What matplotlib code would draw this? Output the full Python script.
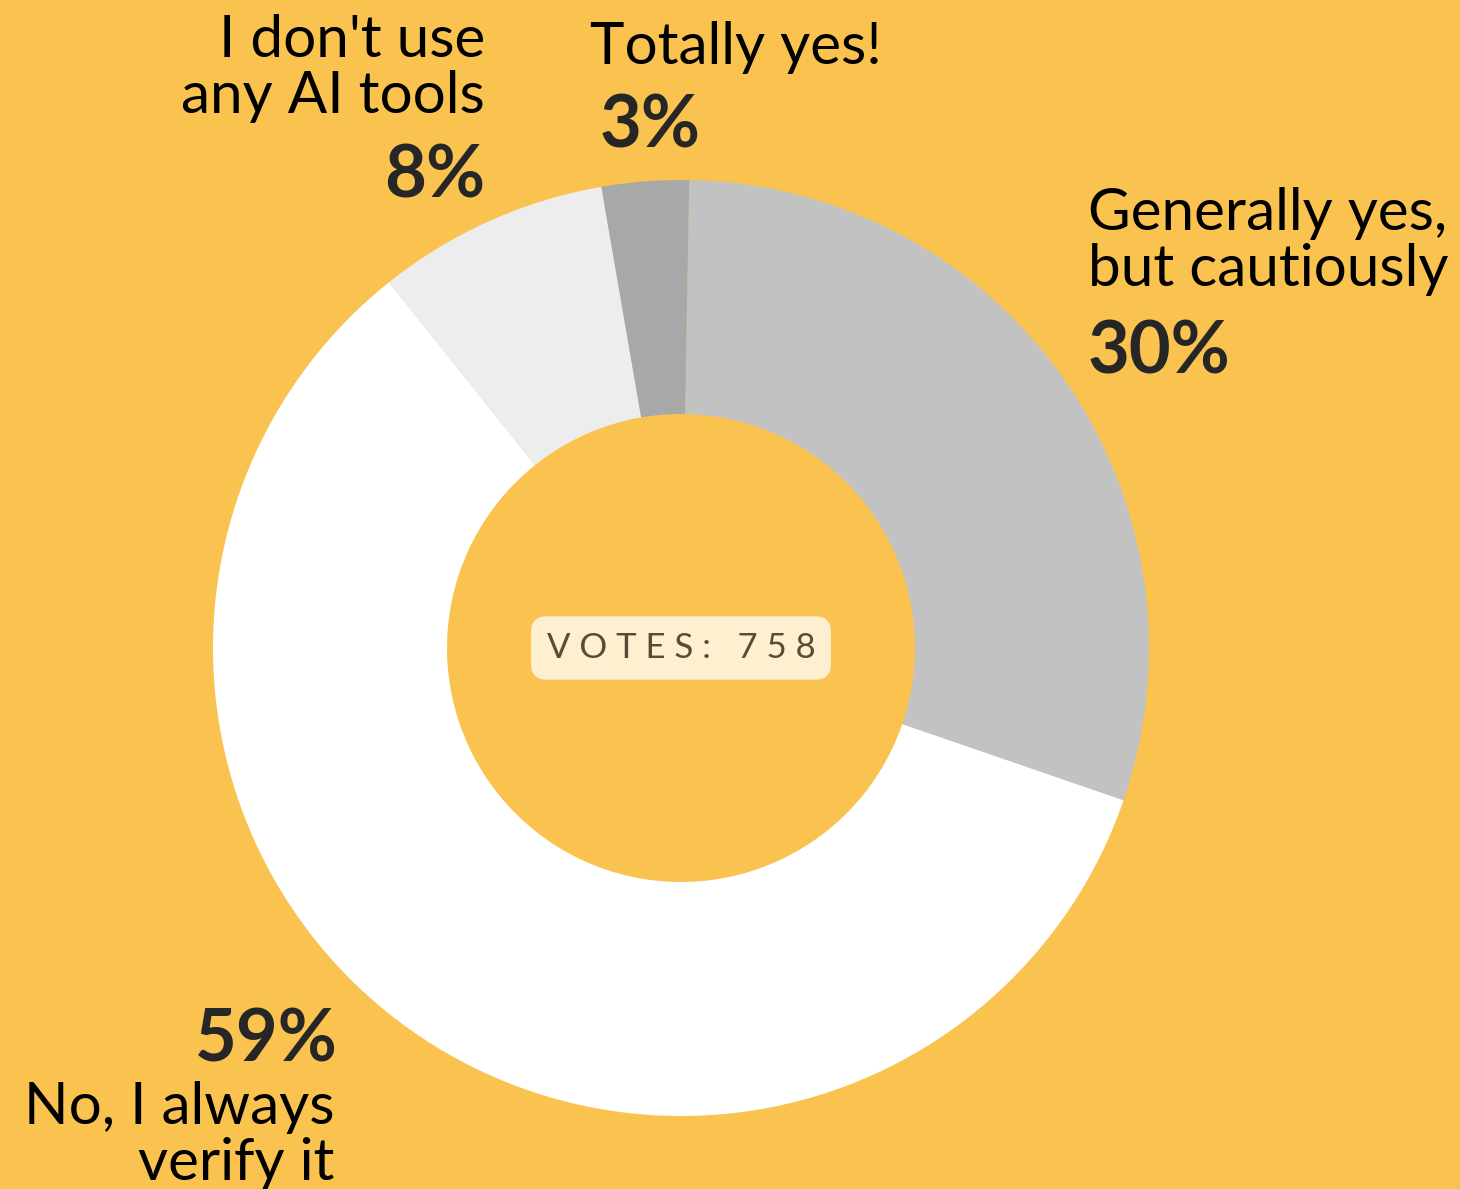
import matplotlib.pyplot as plt

labels = ["Generally yes,\nbut cautiously", "No, I always\nverify it", "I don't use\nany AI tools", "Totally yes!"]
shares = [30, 59, 8, 3]
pct_text = ["30%", "59%", "8%", "3%"]
votes = 758

bg = "#FAC34F"
slice_colors = ["#C2C2C2", "#FFFFFF", "#EDEDED", "#A8A8A8"]

W, H = 1460, 1189
fig = plt.figure(figsize=(W / 100, H / 100), dpi=100, facecolor=bg)

# donut: centre (681, 648) px, radius 468 px
cx, cy, r = 681, 648, 468
ax = fig.add_axes([(cx - r) / W, (H - cy - r) / H, 2 * r / W, 2 * r / H])
ax.set_facecolor(bg)
ax.pie(shares, colors=slice_colors, startangle=89, counterclock=False,
       radius=1, wedgeprops=dict(width=0.5, edgecolor="none"))
ax.set_xlim(-1, 1)
ax.set_ylim(-1, 1)
ax.set_aspect("equal")
ax.axis("off")

vote_label = " ".join("VOTES:") + "   " + " ".join(str(votes))
ax.text(0, 0, vote_label,
        ha="center", va="center", fontsize=25, color="#5B4A35",
        family=["Lato", "DejaVu Sans"],
        bbox=dict(boxstyle="round,pad=0.45,rounding_size=0.45", fc="#FEEFD1", ec="none"))


def px(x, y):
    return x / W, 1 - y / H


lab_font = dict(family=["Lato", "DejaVu Sans"], fontsize=42, fontweight="normal",
                color="#000000", linespacing=1.06)
pct_font = dict(family=["Lato", "DejaVu Sans"], fontsize=52, fontweight="bold", color="#262626")

# Generally yes
fig.text(*px(1088, 187), labels[0], ha="left", va="top", **lab_font)
fig.text(*px(1088, 373), pct_text[0], ha="left", va="baseline", **pct_font)
# No, I always
fig.text(*px(338, 1062), pct_text[1], ha="right", va="baseline", **pct_font)
fig.text(*px(334, 1081), labels[1], ha="right", va="top", **lab_font)
# I don't use
fig.text(*px(485, 14), labels[2], ha="right", va="top", **lab_font)
fig.text(*px(485, 197), pct_text[2], ha="right", va="baseline", **pct_font)
# Totally yes
fig.text(*px(590, 21), labels[3], ha="left", va="top", **lab_font)
fig.text(*px(600, 147), pct_text[3], ha="left", va="baseline", **pct_font)

fig.savefig("out.png", dpi=100, facecolor=bg)
